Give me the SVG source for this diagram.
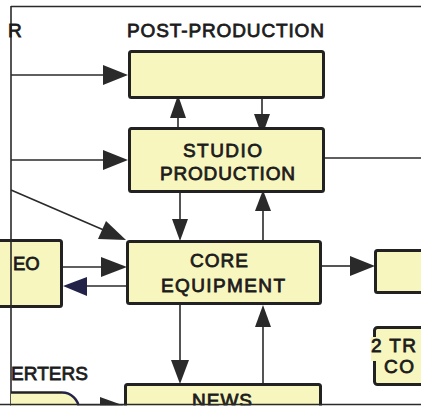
<svg xmlns="http://www.w3.org/2000/svg" width="421" height="408" viewBox="0 0 421 408">
<defs>
<style>
.box{fill:#f8f6bf;stroke:#222;stroke-width:3;}
.ln{stroke:#2a2a2a;stroke-width:1.6;fill:none;}
.ah{fill:#2a2a2a;}
.t{font-family:"Liberation Sans",Arial,sans-serif;font-size:19px;fill:#1c1c1c;stroke:#1c1c1c;stroke-width:0.8;}
</style>
</defs>
<rect width="421" height="408" fill="#ffffff"/>
<g id="frame">
<line class="ln" x1="11" y1="6.5" x2="421" y2="6.5"/>
<line class="ln" x1="11" y1="6" x2="11" y2="408"/>
<text class="t" x="8" y="37">R</text>
<text class="t" x="127" y="37" textLength="197" lengthAdjust="spacing">POST-PRODUCTION</text>
<text class="t" x="11" y="380" textLength="77" lengthAdjust="spacing">ERTERS</text>
</g>
<g id="connectors">
<line class="ln" x1="11" y1="75" x2="106" y2="75"/>
<polygon class="ah" points="128,75 103,65 103,85"/>
<line class="ln" x1="11" y1="160" x2="106" y2="160"/>
<polygon class="ah" points="128,160 103,150 103,170"/>
<line class="ln" x1="11" y1="190" x2="106" y2="231"/>
<polygon class="ah" points="126,240 98,239 106,221"/>
<line class="ln" x1="178" y1="128" x2="178" y2="115"/>
<polygon class="ah" points="178,95 170,118 186,118"/>
<line class="ln" x1="262" y1="99" x2="262" y2="116"/>
<polygon class="ah" points="262,136 254,114 270,114"/>
<line class="ln" x1="180" y1="193" x2="180" y2="222"/>
<polygon class="ah" points="180,241 172,219 188,219"/>
<line class="ln" x1="263" y1="241" x2="263" y2="208"/>
<polygon class="ah" points="263,190 255,211 271,211"/>
<line class="ln" x1="62" y1="267" x2="104" y2="267"/>
<polygon class="ah" points="127,267 101,257 101,277"/>
<line class="ln" x1="126" y1="286" x2="84" y2="286"/>
<polygon points="63,286 87,277 87,296" fill="#23234a"/>
<line class="ln" x1="322" y1="266" x2="352" y2="266"/>
<polygon class="ah" points="375,266 350,256 350,276"/>
<line class="ln" x1="180" y1="305" x2="180" y2="362"/>
<polygon class="ah" points="180,384 171,360 189,360"/>
<line class="ln" x1="263" y1="383" x2="263" y2="323"/>
<polygon class="ah" points="263,305 255,327 271,327"/>
<line class="ln" x1="325" y1="158" x2="421" y2="158"/>
<line class="ln" x1="80" y1="406" x2="104" y2="406"/>
<polygon class="ah" points="125,406 100,397 100,415"/>
</g>
<g id="post">
<rect class="box" x="129.5" y="51.5" width="194" height="46" rx="2"/>
</g>
<g id="studio">
<rect class="box" x="129.5" y="128.5" width="194" height="63" rx="2"/>
<text class="t" x="183" y="157" textLength="79" lengthAdjust="spacing">STUDIO</text>
<text class="t" x="160" y="180" textLength="135" lengthAdjust="spacing">PRODUCTION</text>
</g>
<g id="core">
<rect class="box" x="127.5" y="241.5" width="193" height="62" rx="2"/>
<text class="t" x="190" y="267" textLength="58" lengthAdjust="spacing">CORE</text>
<text class="t" x="161" y="292" textLength="124" lengthAdjust="spacing">EQUIPMENT</text>
</g>
<g id="video">
<rect class="box" x="-20" y="240.5" width="81.5" height="66" rx="2"/>
<line class="ln" x1="11" y1="240" x2="11" y2="308"/>
<text class="t" x="13" y="270" style="font-size:18.5px">EO</text>
</g>
<g id="right-box">
<rect class="box" x="375.5" y="250.5" width="60" height="42" rx="2"/>
</g>
<g id="transmission">
<rect class="box" x="374.5" y="327.5" width="60" height="57" rx="3"/>
<rect x="371" y="337" width="8" height="24" fill="#f8f6bf"/>
<text class="t" x="371" y="352" textLength="45" lengthAdjust="spacing">2 TR</text>
<text class="t" x="384" y="373" textLength="30" lengthAdjust="spacing">CO</text>
</g>
<g id="converters">
<path d="M11,392.5 H62 A17,17 0 0 1 79,409 V410 H11 Z" fill="#f8f6bf" stroke="none"/>
<path d="M11,392.5 H62" stroke="#222" stroke-width="2.5" fill="none"/>
<path d="M62,392.5 A17,17 0 0 1 79,409" stroke="#23234a" stroke-width="2.5" fill="none"/>
</g>
<g id="news">
<rect class="box" x="125.5" y="384.5" width="195" height="40" rx="2"/>
<text class="t" x="192" y="407" textLength="60" lengthAdjust="spacing">NEWS</text>
</g>
<g id="bottom-edge">
<rect x="0" y="405.5" width="421" height="3" fill="#ffffff"/>
<line x1="0" y1="404.5" x2="421" y2="404.5" stroke="#2a2a2a" stroke-width="1.5"/>
</g>
</svg>
